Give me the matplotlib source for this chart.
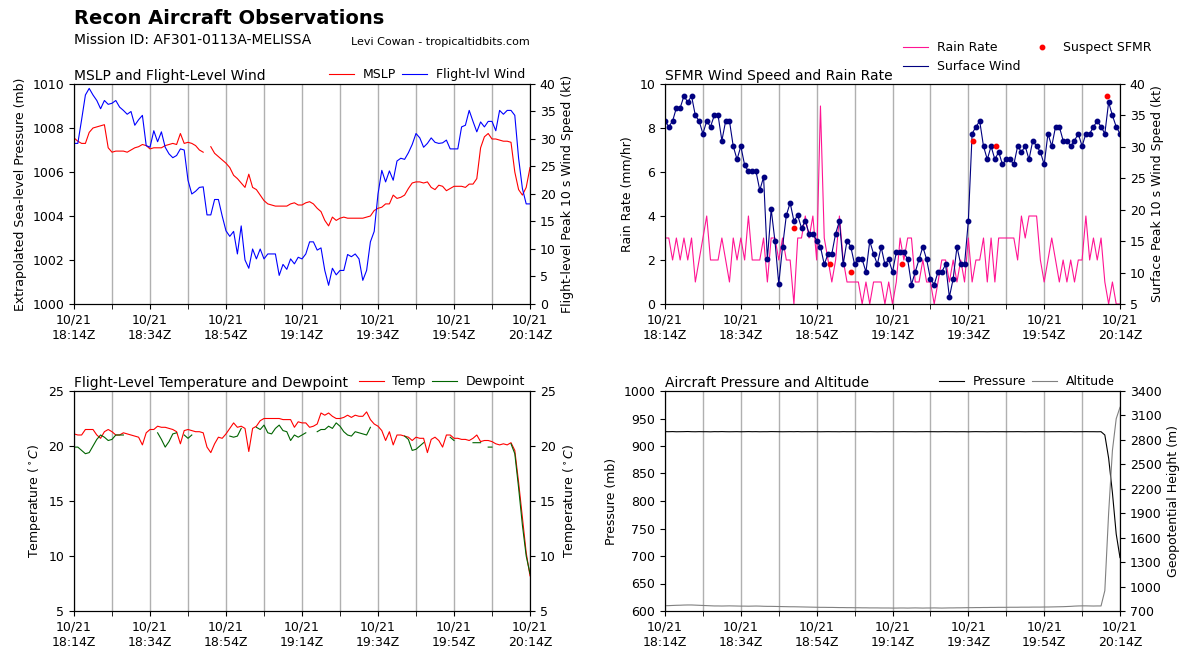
import numpy as np
import matplotlib
matplotlib.use('Agg')
import matplotlib.pyplot as plt
import matplotlib.dates as mdates

nan = np.nan
# minutes after 10/21 18:14Z, 1-minute samples
minutes = np.arange(0, 121)
t0 = np.datetime64('2025-10-21T18:14')
times = t0 + minutes * np.timedelta64(1, 'm')

mslp = [1007.55, 1007.4, 1007.3, 1007.3, 1007.8, 1008.0, 1008.05, 1008.1, 1008.15, 1007.1,
        1006.9, 1006.95, 1006.95, 1006.95, 1006.9, 1007.0, 1007.1, 1007.15, 1007.25, 1007.2,
        1007.05, 1007.1, 1007.1, 1007.1, 1007.2, 1007.25, 1007.3, 1007.25, 1007.75, 1007.3,
        1007.35, 1007.3, 1007.2, 1007.0, 1006.9, nan, 1007.15, 1006.85, 1006.7, 1006.55,
        1006.4, 1006.2, 1005.85, 1005.7, 1005.5, 1005.3, 1005.9, 1005.3, 1005.2, 1004.95,
        1004.7, 1004.55, 1004.5, 1004.45, 1004.45, 1004.45, 1004.45, 1004.55, 1004.6, 1004.5,
        1004.5, 1004.6, 1004.65, 1004.55, 1004.35, 1004.2, 1003.8, 1003.55, 1003.95, 1003.8,
        1003.9, 1003.95, 1003.9, 1003.9, 1003.9, 1003.9, 1003.9, 1003.95, 1004.0, 1004.25,
        1004.35, 1004.4, 1004.55, 1004.55, 1004.95, 1004.8, 1004.85, 1004.95, 1005.25, 1005.5,
        1005.55, 1005.55, 1005.5, 1005.55, 1005.3, 1005.2, 1005.4, 1005.35, 1005.15, 1005.25,
        1005.35, 1005.35, 1005.35, 1005.3, 1005.45, 1005.45, 1005.7, 1007.1, 1007.6, 1007.75,
        1007.5, 1007.5, 1007.45, 1007.4, 1007.4, 1007.35, 1006.0, 1005.2, 1004.95, 1005.3,
        1006.2]

flt_wind = [29.2, 29.2, 33.5, 38.0, 39.2, 38.0, 37.0, 35.5, 37.0, 36.3,
            36.5, 37.0, 35.8, 35.2, 34.5, 35.0, 32.5, 33.5, 34.3, 28.8,
            28.5, 31.5, 29.5, 31.3, 28.5, 27.3, 26.6, 27.0, 28.2, 28.0,
            22.5, 20.0, 20.5, 21.2, 21.3, 16.2, 16.2, 19.0, 19.0, 16.0,
            13.3, 12.3, 13.2, 9.1, 14.2, 8.0, 6.5, 10.0, 8.2, 10.0,
            8.2, 9.1, 9.1, 9.1, 5.2, 7.2, 6.3, 8.2, 7.3, 8.5,
            8.2, 9.1, 11.3, 11.3, 9.8, 10.2, 6.1, 3.4, 6.5, 5.3,
            6.1, 6.1, 9.0, 8.6, 9.1, 8.2, 4.3, 6.1, 11.3, 13.2,
            20.0, 24.3, 22.2, 24.2, 22.5, 26.0, 26.5, 26.3, 27.5, 29.0,
            31.0, 30.2, 28.5, 29.2, 30.2, 29.4, 29.2, 29.3, 29.8, 28.2,
            28.2, 28.2, 32.2, 32.5, 35.2, 33.2, 31.3, 33.1, 32.2, 33.2,
            33.2, 31.5, 35.2, 34.5, 35.2, 35.2, 34.3, 26.5, 21.0, 18.2,
            18.2]

sfmr = [34.1, 33.2, 34.1, 36.2, 36.2, 38.1, 37.1, 38.1, 35.0, 34.1,
        32.1, 34.1, 33.2, 35.0, 35.0, 31.0, 34.1, 34.1, 30.1, 28.0,
        30.1, 27.1, 26.1, 26.1, 26.1, 23.1, 25.2, 12.1, 20.1, 15.0,
        8.2, 14.1, 19.1, 21.1, 18.2, 19.1, 17.1, 18.2, 16.2, 16.2,
        15.1, 14.1, 11.3, 13.0, 13.0, 16.2, 18.2, 11.3, 15.1, 14.1,
        11.3, 12.1, 12.1, 10.1, 15.0, 13.0, 11.3, 14.1, 11.3, 12.1,
        10.1, 13.2, 13.2, 13.2, 12.1, 8.1, 10.1, 12.1, 14.1, 12.1,
        9.0, 8.1, 10.1, 10.1, 11.3, 6.1, 9.0, 14.1, 11.3, 11.3,
        18.2, 32.1, 33.2, 34.1, 30.1, 28.0, 30.1, 28.0, 29.2, 27.2,
        28.0, 28.0, 27.2, 30.1, 29.2, 30.1, 28.0, 31.0, 30.1, 29.2,
        27.2, 32.1, 30.1, 33.2, 33.2, 31.0, 31.0, 30.1, 31.0, 32.1,
        30.1, 32.1, 32.1, 33.2, 34.1, 33.2, 32.1, 37.1, 35.0, 33.2,
        32.1]

rain = [3, 3, 2, 3, 2, 3, 2, 3, 1, 2,
        3, 4, 2, 2, 2, 3, 2, 1, 3, 2,
        3, 2, 4, 2, 2, 2, 3, 1, 3, 3,
        2, 3, 2, 2, 0, 3, 3, 4, 3, 4,
        2, 9, 3, 2, 1, 2, 4, 2, 1, 1,
        1, 1, 0, 1, 0, 1, 1, 1, 0, 1,
        0, 1, 3, 2, 3, 3, 1, 1, 2, 1,
        1, 0, 1, 2, 2, 1, 2, 1, 2, 1,
        3, 1, 2, 2, 3, 1, 3, 1, 3, 3,
        3, 3, 3, 2, 4, 3, 4, 4, 4, 2,
        1, 2, 3, 2, 1, 2, 1, 2, 1, 2,
        2, 4, 2, 3, 2, 3, 1, 0, 1, 0,
        0]

suspect_min = [34.0, 43.5, 49.0, 62.4, 81.1, 87.2, 116.7]
suspect_wind = [17.1, 11.3, 10.1, 11.3, 31.0, 30.1, 38.1]

temp = [21.1, 21.0, 21.0, 21.5, 21.5, 21.5, 21.0, 20.7, 21.3, 21.5,
        21.3, 21.0, 21.0, 21.2, 21.1, 21.0, 20.9, 20.8, 20.1, 21.2,
        21.5, 21.5, 21.8, 21.7, 21.7, 21.6, 21.5, 21.3, 20.2, 21.4,
        21.5, 21.4, 21.3, 21.3, 21.2, 19.9, 19.4, 20.2, 20.8, 20.7,
        21.1, 21.6, 22.1, 21.7, 21.8, 21.6, 19.5, 21.6, 21.8, 22.3,
        22.5, 22.5, 22.5, 22.5, 22.5, 22.4, 22.4, 22.4, 21.7, 22.2,
        22.1, 22.1, 21.7, 21.8, 22.0, 23.0, 22.8, 23.0, 22.7, 22.5,
        22.5, 22.6, 22.8, 22.6, 22.8, 22.7, 22.7, 23.1, 22.4, 22.0,
        21.8, 21.4, 20.5, 21.3, 20.1, 21.0, 21.0, 20.9, 20.8, 20.5,
        20.8, 20.7, 20.7, 19.4, 20.6, 20.8, 20.5, 19.9, 21.0, 21.0,
        20.7, 20.7, 20.6, 20.6, 20.5, 20.7, 21.0, 20.4, 20.5, 20.5,
        20.4, 20.2, 20.1, 20.2, 20.1, 20.3, 19.6, 16.7, 13.5, 10.3,
        8.2]

dewp = [19.9, 19.9, 19.6, 19.3, 19.4, 20.0, 20.6, 21.0, 20.8, 20.5,
        20.6, 21.0, 21.0, 21.0, nan, nan, nan, nan, nan, nan,
        nan, nan, 21.2, 20.6, 19.9, 20.4, 21.1, 21.2, nan, 21.0,
        20.7, 21.0, nan, nan, nan, nan, nan, nan, nan, nan,
        nan, 20.9, 20.8, 20.9, 21.6, nan, nan, nan, 21.7, 21.5,
        21.9, 21.2, 21.1, 21.6, 21.9, 21.4, 21.3, 20.5, 21.0, 20.8,
        21.0, 21.2, nan, nan, 21.3, 21.5, 21.5, 21.8, 21.6, 22.1,
        21.8, 21.3, 21.0, 20.9, 21.3, 21.2, 21.1, 21.0, 21.7, nan,
        nan, nan, nan, nan, nan, nan, nan, 20.9, 20.6, 19.6,
        19.7, 20.0, 20.3, nan, nan, nan, nan, nan, nan, 20.8,
        20.5, nan, nan, nan, nan, 20.3, 20.3, 20.3, nan, 19.9,
        19.9, nan, nan, nan, nan, 20.2, 19.3, 16.2, 12.8, 10.0,
        8.4]

pres = [926.1, 926.0, 926.2, 925.9, 926.0, 926.1, 926.3, 926.0, 925.9, 926.1,
        926.0, 926.0, 925.8, 926.1, 926.0, 926.2, 926.0, 925.9, 926.0, 926.1,
        925.9, 926.0, 926.2, 926.0, 926.1, 925.9, 926.0, 926.0, 926.2, 926.1,
        926.0, 925.9, 926.0, 926.1, 926.0, 926.2, 925.9, 926.0, 926.0, 926.1,
        926.0, 925.9, 926.0, 926.1, 926.0, 926.0, 925.9, 926.1, 926.0, 926.0,
        926.1, 925.9, 926.0, 926.0, 926.1, 926.0, 925.9, 926.0, 926.1, 926.0,
        926.0, 925.9, 926.0, 926.1, 926.0, 926.0, 925.9, 926.0, 926.0, 926.1,
        926.0, 926.0, 925.9, 926.0, 926.1, 926.0, 926.0, 925.9, 926.0, 926.0,
        925.8, 926.0, 926.1, 926.0, 926.0, 925.9, 926.0, 926.1, 926.0, 926.0,
        925.9, 926.0, 926.0, 926.1, 926.0, 925.9, 926.0, 926.0, 926.1, 926.0,
        926.0, 925.9, 926.0, 926.0, 926.1, 926.0, 926.0, 926.1, 925.9, 926.0,
        926.0, 926.1, 926.0, 926.0, 925.9, 926.0, 920.0, 878.0, 815.0, 740.0,
        697.0]

alt = [765, 766, 768, 770, 771, 773, 774, 774, 772, 770,
       768, 766, 764, 762, 762, 761, 762, 763, 762, 761,
       760, 760, 759, 760, 761, 760, 758, 757, 757, 756,
       755, 754, 753, 752, 752, 751, 750, 749, 748, 747,
       746, 745, 745, 744, 744, 743, 742, 742, 741, 741,
       740, 740, 739, 739, 738, 738, 738, 737, 737, 737,
       736, 736, 737, 737, 736, 737, 738, 737, 736, 737,
       737, 738, 737, 736, 737, 738, 738, 739, 739, 740,
       741, 741, 742, 742, 743, 743, 744, 744, 745, 745,
       745, 746, 746, 746, 747, 747, 747, 748, 748, 748,
       749, 749, 750, 751, 752, 753, 755, 757, 760, 762,
       763, 763, 762, 761, 762, 762, 950, 1900, 2670, 3060,
       3200]

suspect_times = t0 + (np.array(suspect_min) * 60).astype(int) * np.timedelta64(1, 's')

fig = plt.figure(figsize=(11.93, 6.59), dpi=100)
W, H = 1193.0, 659.0


def make_ax(x0, y0, x1, y1):
    return fig.add_axes([x0 / W, 1 - y1 / H, (x1 - x0) / W, (y1 - y0) / H])


def style_time(ax):
    ax.set_xlim(times[0], times[-1])
    ax.xaxis.set_major_locator(mdates.MinuteLocator(byminute=[14, 34, 54]))
    ax.xaxis.set_minor_locator(mdates.MinuteLocator(byminute=[4, 24, 44]))
    ax.xaxis.set_major_formatter(mdates.DateFormatter('%m/%d\n%H:%MZ'))
    ax.grid(which='both', axis='x', color='#b0b0b0', lw=1)
    ax.tick_params(which='minor', length=3.5)
    ax.tick_params(labelsize=9)


def top_legend(ax, handles):
    ax.legend(handles=handles, loc='lower right', bbox_to_anchor=(1.0, 0.99), ncol=2,
              frameon=False, fontsize=9, borderaxespad=0, columnspacing=0.5,
              handlelength=2.0, handletextpad=0.7)


fs_lab = 9
lw = 0.8

# ---- MSLP and flight level wind
ax1 = make_ax(74, 84, 530, 304)
style_time(ax1)
l1, = ax1.plot(times, mslp, color='red', lw=lw, label='MSLP')
ax1.set_ylim(1000, 1010)
ax1.set_yticks(np.arange(1000, 1011, 2))
ax1.set_ylabel('Extrapolated Sea-level Pressure (mb)', fontsize=fs_lab)
ax1b = ax1.twinx()
l2, = ax1b.plot(times, flt_wind, color='blue', lw=lw, label='Flight-lvl Wind')
ax1b.set_ylim(0, 40)
ax1b.set_yticks(np.arange(0, 41, 5))
ax1b.tick_params(labelsize=9)
ax1b.set_ylabel('Flight-level Peak 10 s Wind Speed (kt)', fontsize=fs_lab)
ax1.set_title('MSLP and Flight-Level Wind', loc='left', fontsize=10, pad=3)
top_legend(ax1b, [l1, l2])

# ---- SFMR and rain rate
ax2 = make_ax(665, 84, 1120, 304)
style_time(ax2)
l3, = ax2.plot(times, rain, color='deeppink', lw=lw, label='Rain Rate')
ax2.set_ylim(0, 10)
ax2.set_yticks(np.arange(0, 11, 2))
ax2.set_ylabel('Rain Rate (mm/hr)', fontsize=fs_lab)
ax2b = ax2.twinx()
l4, = ax2b.plot(times, sfmr, color='navy', lw=lw, label='Surface Wind')
ax2b.plot(times, sfmr, 'o', color='navy', ms=3.2, ls='none')
l5, = ax2b.plot(suspect_times, suspect_wind, 'o', color='red', ms=3.2, ls='none',
                label='Suspect SFMR')
ax2b.set_ylim(5, 40)
ax2b.set_yticks(np.arange(5, 41, 5))
ax2b.tick_params(labelsize=9)
ax2b.set_ylabel('Surface Peak 10 s Wind Speed (kt)', fontsize=fs_lab)
ax2.set_title('SFMR Wind Speed and Rain Rate', loc='left', fontsize=10, pad=3)
ax2b.legend(handles=[l3, l4, l5], loc='lower right', bbox_to_anchor=(1.08, 1.025), ncol=2,
            frameon=False, fontsize=9, borderaxespad=0, columnspacing=0.7,
            handlelength=2.0, handletextpad=0.7)

# ---- temperature and dewpoint
ax3 = make_ax(74, 391, 530, 611)
style_time(ax3)
l6, = ax3.plot(times, temp, color='red', lw=lw, label='Temp')
l7, = ax3.plot(times, dewp, color='darkgreen', lw=lw, label='Dewpoint')
ax3.set_ylim(5, 25)
ax3.set_yticks(np.arange(5, 26, 5))
ax3.set_ylabel('Temperature ($^\\circ C$)', fontsize=fs_lab)
ax3b = ax3.twinx()
ax3b.set_ylim(5, 25)
ax3b.set_yticks(np.arange(5, 26, 5))
ax3b.tick_params(labelsize=9)
ax3b.set_ylabel('Temperature ($^\\circ C$)', fontsize=fs_lab)
ax3.set_title('Flight-Level Temperature and Dewpoint', loc='left', fontsize=10, pad=3)
top_legend(ax3b, [l6, l7])

# ---- aircraft pressure and altitude
ax4 = make_ax(665, 391, 1120, 611)
style_time(ax4)
l8, = ax4.plot(times, pres, color='black', lw=lw, label='Pressure')
ax4.set_ylim(600, 1000)
ax4.set_yticks(np.arange(600, 1001, 50))
ax4.set_ylabel('Pressure (mb)', fontsize=fs_lab)
ax4b = ax4.twinx()
l9, = ax4b.plot(times, alt, color='gray', lw=lw, label='Altitude')
ax4b.set_ylim(700, 3400)
ax4b.set_yticks(np.arange(700, 3401, 300))
ax4b.tick_params(labelsize=9)
ax4b.set_ylabel('Geopotential Height (m)', fontsize=fs_lab)
ax4.set_title('Aircraft Pressure and Altitude', loc='left', fontsize=10, pad=3)
top_legend(ax4b, [l8, l9])

fig.text(74 / W, 1 - 19 / H, 'Recon Aircraft Observations', fontsize=14,
         fontweight='bold', va='center', ha='left')
fig.text(74 / W, 1 - 40 / H, 'Mission ID: AF301-0113A-MELISSA', fontsize=10,
         va='center', ha='left')
fig.text(351 / W, 1 - 42 / H, 'Levi Cowan - tropicaltidbits.com', fontsize=8,
         va='center', ha='left')

fig.savefig('out.png', dpi=100)
